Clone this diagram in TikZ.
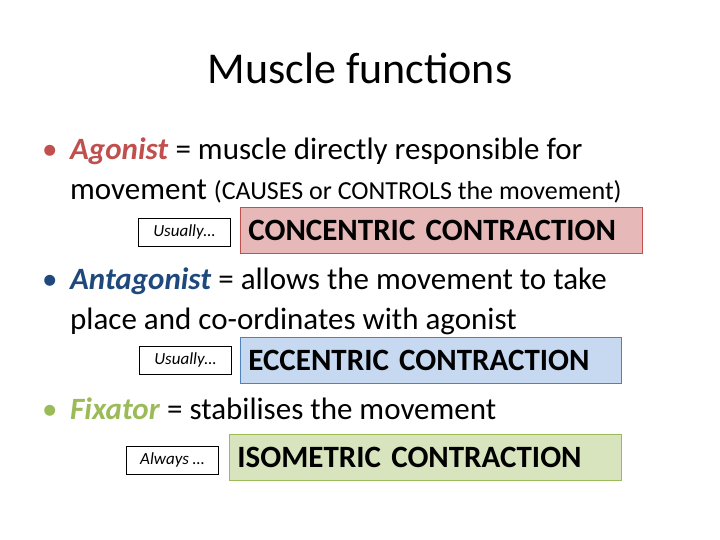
\documentclass[tikz,border=0pt]{standalone}
\usepackage{fontspec}
\setmainfont{Carlito}
\usetikzlibrary{positioning}
\definecolor{agored}{HTML}{C0504D}
\definecolor{antblue}{HTML}{1F497D}
\definecolor{fixgreen}{HTML}{9BBB59}
\definecolor{redfill}{HTML}{E6B9B8}
\definecolor{bluefill}{HTML}{C6D9F1}
\definecolor{bluedraw}{HTML}{4F81BD}
\definecolor{greenfill}{HTML}{D7E4BD}
\tikzset{
  line/.style={anchor=base west, inner sep=0pt, font=\fontsize{31}{36}\selectfont},
  tag/.style={draw=black, thick, font=\fontsize{17}{20}\selectfont\itshape, minimum height=28pt, minimum width=92pt, anchor=west},
  kind/.style={draw=#1, thick, minimum height=46pt, inner xsep=8pt, anchor=west, align=left, font=\fontsize{31}{36}\selectfont\bfseries}
}
\begin{document}
\begin{tikzpicture}[x=1pt,y=-1pt]
\useasboundingbox (0,0) rectangle (720,539);
\node (title) at (360,68) {\fontsize{44}{48}\selectfont Muscle functions};
% agonist
\node (b1) [line] at (42,159) {\textcolor{agored}{•}};
\node (ago) [line] at (70,159) {\textcolor{agored}{\textbf{\textit{Agonist}}} = muscle directly responsible for};
\node (ago2) [line] at (70,199) {movement {\fontsize{26}{30}\selectfont(CAUSES or CONTROLS the movement)}};
\node (tag1) [tag] at (138,232) {Usually…};
\node (con) [kind=agored, fill=redfill, text width=386pt] at (240,230) {CONCENTRIC CONTRACTION};
% antagonist
\node (b2) [line] at (42,289) {\textcolor{antblue}{•}};
\node (ant) [line] at (70,289) {\textcolor{antblue}{\textbf{\textit{Antagonist}}} = allows the movement to take};
\node (ant2) [line] at (70,329) {place and co-ordinates with agonist};
\node (tag2) [tag] at (139,360) {Usually…};
\node (ecc) [kind=bluedraw, fill=bluefill, text width=365pt] at (240,360) {ECCENTRIC CONTRACTION};
% fixator
\node (b3) [line] at (42,419) {\textcolor{fixgreen}{•}};
\node (fix) [line] at (70,419) {\textcolor{fixgreen}{\textbf{\textit{Fixator}}} = stabilises the movement};
\node (tag3) [tag] at (126,460) {Always …};
\node (iso) [kind=fixgreen, fill=greenfill, text width=376pt] at (229,457) {ISOMETRIC CONTRACTION};
\end{tikzpicture}
\end{document}
